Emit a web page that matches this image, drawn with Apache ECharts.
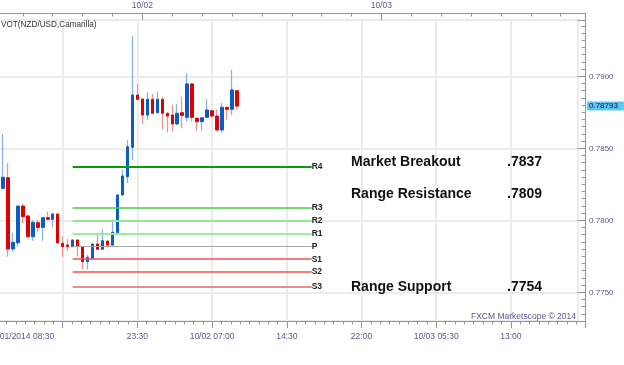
<!DOCTYPE html>
<html><head><meta charset="utf-8">
<script src="https://cdn.jsdelivr.net/npm/echarts@6/dist/echarts.min.js"></script>
<style>html,body{margin:0;padding:0;background:#fff}#c{width:624px;height:365px}</style>
</head><body><div id="c"></div>
<script>
// ---------- data ----------
const times = ['10/01 10:00','10/01 10:30','10/01 11:00','10/01 11:30','10/01 12:00','10/01 12:30','10/01 13:00','10/01 13:30','10/01 14:00','10/01 14:30','10/01 15:00','10/01 15:30','10/01 16:00','10/01 16:30','10/01 17:00','10/01 17:30','10/01 18:00','10/01 18:30','10/01 19:00','10/01 19:30','10/01 20:00','10/01 20:30','10/01 21:00','10/01 21:30','10/01 22:00','10/01 22:30','10/01 23:00','10/01 23:30','10/02 00:00','10/02 00:30','10/02 01:00','10/02 01:30','10/02 02:00','10/02 02:30','10/02 03:00','10/02 03:30','10/02 04:00','10/02 04:30','10/02 05:00','10/02 05:30','10/02 06:00','10/02 06:30','10/02 07:00','10/02 07:30','10/02 08:00','10/02 08:30','10/02 09:00','10/02 09:30'];
const open  = [0.78222,0.78296,0.77801,0.77844,0.78099,0.78030,0.77886,0.77983,0.77951,0.78018,0.78007,0.78044,0.77840,0.77828,0.77817,0.77863,0.77817,0.77713,0.77736,0.77835,0.77799,0.77856,0.77828,0.77914,0.78176,0.78303,0.78507,0.78870,0.78842,0.78731,0.78840,0.78747,0.78840,0.78743,0.78731,0.78669,0.78747,0.78715,0.78947,0.78708,0.78685,0.78715,0.78761,0.78724,0.78627,0.78785,0.78771,0.78900];
const close = [0.78299,0.77801,0.77847,0.78099,0.78025,0.77886,0.77986,0.77951,0.78018,0.78007,0.78044,0.77844,0.77817,0.77817,0.77863,0.77821,0.77713,0.77743,0.77835,0.77799,0.77858,0.77828,0.77917,0.78176,0.78308,0.78511,0.78870,0.78840,0.78731,0.78840,0.78743,0.78840,0.78743,0.78724,0.78669,0.78743,0.78729,0.78947,0.78715,0.78685,0.78712,0.78766,0.78724,0.78627,0.78785,0.78771,0.78905,0.78793];
const low   = [0.78215,0.77747,0.77782,0.77817,0.77979,0.77882,0.77858,0.77921,0.77858,0.78000,0.77951,0.77835,0.77747,0.77789,0.77813,0.77752,0.77660,0.77660,0.77729,0.77794,0.77794,0.77810,0.77826,0.77912,0.78170,0.78257,0.78419,0.78838,0.78669,0.78697,0.78740,0.78745,0.78632,0.78610,0.78615,0.78662,0.78639,0.78685,0.78685,0.78622,0.78622,0.78715,0.78719,0.78622,0.78608,0.78697,0.78731,0.78771];
const high  = [0.78599,0.78396,0.77914,0.78099,0.78113,0.78037,0.78000,0.78007,0.78021,0.78060,0.78053,0.78046,0.77886,0.77868,0.77868,0.77868,0.77821,0.77759,0.77840,0.77898,0.77940,0.77858,0.78007,0.78180,0.78349,0.78558,0.79280,0.78947,0.78847,0.78889,0.78877,0.78893,0.78858,0.78750,0.78801,0.78808,0.78858,0.79021,0.78950,0.78719,0.78719,0.78840,0.78766,0.78771,0.78817,0.78789,0.79044,0.78905];
const lastPrice = 0.78793;
const pivotNames  = ['R4','R3','R2','R1','P','S1','S2','S3'];
const pivotValues = [0.7837,0.7809,0.7800,0.7791,0.7782,0.7773,0.7764,0.7754];
const pivotStart = '10/01 17:00';
const pivotEnd   = '10/02 17:00';
const bottomTickLabels = ['10/01/2014 08:30','','23:30','10/02 07:00','14:30','22:00','10/03 05:30','13:00',''];
const topTickLabels = ['','10/02','10/03'];
const annotationNames  = ['Market Breakout','Range Resistance','Range Support'];
const annotationValues = ['.7837','.7809','.7754'];
const titleText  = 'VOT(NZD/USD,Camarilla)';
const creditText = 'FXCM Marketscope \u00a9 2014';

// ---------- helpers ----------
// half-hour slots since 10/01 00:00
function slotOf(str){
  const m = str.match(/(\d+)\/(\d+) (\d+):(\d+)/);
  return ((+m[2]-1)*1440 + (+m[3])*60 + (+m[4]))/30;
}
const P0 = slotOf('10/01 08:30');       // origin of plot axis
const toP = s => slotOf(s) - P0;

// ---------- layout ----------
const FONT = '"Liberation Sans", Arial, sans-serif';
const PX = 4.98, X0 = -12;
const PLOT_TOP = 20, PLOT_H = 301, PLOT_W = 590;
const AX_TOP = 13, AX_H = 308;
const AX_W = 120*PX;
const labelColor = '#56568a', axisColor = '#959595', gridColor = '#ebebeb';

const wickData = times.map((t,i)=>[toP(t), open[i], close[i], low[i], high[i]]);
const bodyData = times.map((t,i)=>[toP(t), open[i], close[i], Math.min(open[i],close[i]), Math.max(open[i],close[i])]);

const pivotStyles = [
  {color:'#0a9a0a', width:2},
  {color:'#44cc44', width:1.5},
  {color:'#8fe98f', width:2},
  {color:'#9aee9a', width:2},
  {color:'#a8a8a8', width:1},
  {color:'#ee5555', width:1.5},
  {color:'#ee5050', width:1.5},
  {color:'#dd6a6a', width:1.5}
];
const pivotLines = pivotNames.map((n,i)=>[
  {name:n, coord:[toP(pivotStart), pivotValues[i]], lineStyle:{color:pivotStyles[i].color, width:pivotStyles[i].width, type:'solid', opacity:1}},
  {coord:[toP(pivotEnd), pivotValues[i]], lineStyle:{color:pivotStyles[i].color, width:pivotStyles[i].width, type:'solid', opacity:1}}
]);

const chart = echarts.init(document.getElementById('c'), null, {renderer:'canvas'});
const annY = [162, 194, 287.5];
const graphics = [
  {type:'text', z:100, x:1, y:25, style:{text:titleText, font:'8.2px '+FONT, fill:'#333', align:'left', verticalAlign:'middle'}},
  {type:'text', z:100, x:576, y:317, style:{text:creditText, font:'8.5px '+FONT, fill:labelColor, align:'right', verticalAlign:'middle'}}
];
annotationNames.forEach((n,i)=>{
  graphics.push({type:'text', z:100, x:351, y:annY[i], style:{text:n, font:'bold 14px '+FONT, fill:'#111', align:'left', verticalAlign:'middle'}});
  graphics.push({type:'text', z:100, x:507, y:annY[i], style:{text:annotationValues[i], font:'bold 14px '+FONT, fill:'#111', align:'left', verticalAlign:'middle'}});
});

chart.setOption({
  animation:false,
  backgroundColor:'#ffffff',
  textStyle:{fontFamily:FONT},
  grid:[
    {left:X0, top:PLOT_TOP, width:PLOT_W, height:PLOT_H, show:true, borderColor:'#dbe2ea', borderWidth:2, backgroundColor:'transparent', containLabel:false, outerBoundsMode:'none'},
    {left:X0, top:AX_TOP, width:AX_W, height:AX_H, containLabel:false, outerBoundsMode:'none'},
    {left:X0-P0*PX, top:AX_TOP, width:AX_W+P0*PX, height:AX_H, containLabel:false, outerBoundsMode:'none'}
  ],
  xAxis:[
    {type:'value', gridIndex:0, min:0, max:PLOT_W/PX, interval:15,
     axisLine:{show:false, onZero:false}, axisTick:{show:false}, axisLabel:{show:false},
     splitLine:{show:true, lineStyle:{color:gridColor, width:2}}},
    {type:'value', gridIndex:1, position:'bottom', min:0, max:120, interval:15,
     axisLine:{show:true, onZero:false, lineStyle:{color:axisColor, width:1}},
     axisTick:{show:true, length:7, lineStyle:{color:axisColor}},
     minorTick:{show:true, splitNumber:8, length:3.5, lineStyle:{color:axisColor}},
     splitLine:{show:false},
     axisLabel:{show:true, margin:11, fontSize:8.5, fontFamily:FONT, color:labelColor, showMinLabel:true, showMaxLabel:true, alignMinLabel:'left',
       formatter:v=>{const i=Math.round(v/15); return Math.abs(v-i*15)<1e-6 ? (bottomTickLabels[i]||'') : '';}}},
    {type:'value', gridIndex:2, position:'top', min:0, max:(AX_W/PX)+P0, interval:48,
     axisLine:{show:true, onZero:false, lineStyle:{color:axisColor, width:1}},
     axisTick:{show:true, inside:true, length:7, lineStyle:{color:axisColor}},
     minorTick:{show:true, splitNumber:8, length:3.5, lineStyle:{color:axisColor}},
     splitLine:{show:false},
     axisLabel:{show:true, margin:3, fontSize:8.5, fontFamily:FONT, color:labelColor,
       formatter:v=>{const i=Math.round(v/48); return Math.abs(v-i*48)<1e-6 ? (topTickLabels[i]||'') : '';}}}
  ],
  yAxis:[
    {type:'value', gridIndex:0, position:'right', offset:AX_W-PLOT_W, scale:true,
     min:0.773007, max:0.793910,
     axisLine:{show:false, onZero:false},
     axisTick:{show:true, inside:true, length:8, lineStyle:{color:axisColor}},
     minorTick:{show:true, splitNumber:10, length:4, lineStyle:{color:axisColor}},
     splitLine:{show:true, lineStyle:{color:gridColor, width:2}},
     axisLabel:{show:true, margin:3.5, fontSize:8, fontFamily:FONT, color:labelColor, showMinLabel:false, showMaxLabel:false,
       formatter:v=>v.toFixed(4)}},
    {type:'value', gridIndex:1, position:'right', min:0, max:1,
     axisLine:{show:true, onZero:false, lineStyle:{color:axisColor, width:1}},
     axisTick:{show:false}, axisLabel:{show:false}, splitLine:{show:false}},
    {type:'value', gridIndex:2, show:false, min:0, max:1, axisLine:{onZero:false}}
  ],
  graphic:graphics,
  series:[
    {name:'wick', type:'candlestick', xAxisIndex:0, yAxisIndex:0, data:wickData, barWidth:1,
     itemStyle:{color:'#86b4ea', color0:'#f29494', borderColor:'#86b4ea', borderColor0:'#f29494', borderWidth:1.3}},
    {name:'body', type:'candlestick', xAxisIndex:0, yAxisIndex:0, data:bodyData, barWidth:3,
     itemStyle:{color:'#0b5cc4', color0:'#e00000', borderColor:'#0b5cc4', borderColor0:'#e00000', borderWidth:1},
     markLine:{silent:true, symbol:'none', animation:false, precision:5,
       lineStyle:{color:'rgba(0,0,0,0)', width:0.01, type:'solid'},
       data:[{yAxis:lastPrice}],
       label:{show:true, position:'end', distance:9, formatter:()=>lastPrice.toFixed(5),
         backgroundColor:'#5cc6f0', color:'#101040', fontSize:8, fontFamily:FONT, padding:[1,6,0,2]}}},
    {name:'pivots', type:'line', xAxisIndex:0, yAxisIndex:0, data:[], silent:true, z:3,
     markLine:{silent:true, symbol:'none', animation:false, precision:5, data:pivotLines,
       label:{show:true, position:'end', distance:0, formatter:'{b}', color:'#222', fontWeight:'bold', fontSize:8.5, fontFamily:FONT, padding:[10,0,0,0]}}}
  ]
});
</script></body></html>
